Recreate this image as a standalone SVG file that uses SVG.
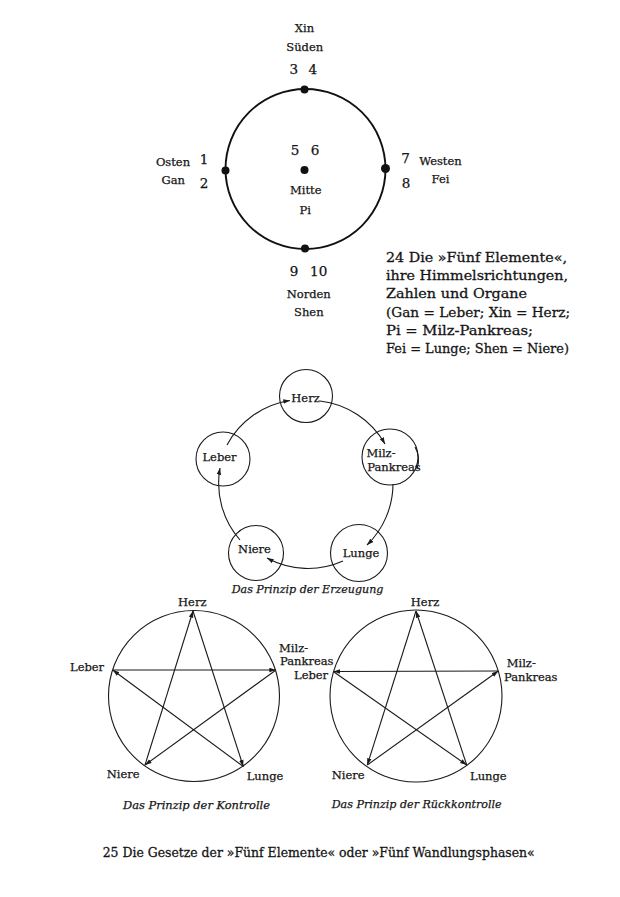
<svg xmlns="http://www.w3.org/2000/svg" width="620" height="897" viewBox="0 0 620 897">
<defs>
<style>
.t{font-family:"DejaVu Serif","Liberation Serif",serif;font-size:11.5px;fill:#151515;stroke:#151515;stroke-width:0.25}
.m{text-anchor:middle}
.d{font-size:13.5px}
.c{font-size:13.5px;stroke-width:0.3}
.i{font-style:italic;font-size:11.5px}
.ln{fill:none;stroke:#1a1a1a;stroke-width:1.1}
.dot{fill:#111}
</style>
<marker id="ah" viewBox="0 0 8 6" refX="8" refY="3" markerWidth="7" markerHeight="5" markerUnits="userSpaceOnUse" orient="auto">
<path d="M0,0.3 L8,3 L0,5.7 z" fill="#1a1a1a"/>
</marker>
</defs>
<rect width="620" height="897" fill="#ffffff"/>

<!-- Figure 24 -->
<g id="fig24">
<circle cx="305.5" cy="169" r="80" fill="none" stroke="#111" stroke-width="1.9"/>
<g id="sueden">
<circle class="dot" cx="304.5" cy="89.5" r="4"/>
<text class="t m" x="304.5" y="32">Xin</text>
<text class="t m" x="304.7" y="51">Süden</text>
<text class="t d m" x="293.8" y="73.5">3</text>
<text class="t d m" x="312.8" y="73.5">4</text>
</g>
<g id="osten">
<circle class="dot" cx="225.5" cy="170.5" r="4"/>
<text class="t m" x="173" y="166">Osten</text>
<text class="t m" x="173.3" y="184">Gan</text>
<text class="t d m" x="204" y="163.5">1</text>
<text class="t d m" x="204" y="188">2</text>
</g>
<g id="mitte">
<circle class="dot" cx="304.5" cy="170" r="4"/>
<text class="t d m" x="295" y="155">5</text>
<text class="t d m" x="315" y="155">6</text>
<text class="t m" x="305.7" y="194">Mitte</text>
<text class="t m" x="305.3" y="214">Pi</text>
</g>
<g id="westen">
<circle class="dot" cx="385.5" cy="168.5" r="4.5"/>
<text class="t d m" x="405.5" y="163">7</text>
<text class="t d m" x="406" y="188">8</text>
<text class="t m" x="440.5" y="164.5">Westen</text>
<text class="t m" x="440.5" y="183">Fei</text>
</g>
<g id="norden">
<circle class="dot" cx="305" cy="248.5" r="4"/>
<text class="t d m" x="294" y="276">9</text>
<text class="t d m" x="318.7" y="276">10</text>
<text class="t m" x="308.7" y="297.5">Norden</text>
<text class="t m" x="308.8" y="316">Shen</text>
</g>
<g id="caption24">
<text class="t c" x="386" y="261.5" textLength="181" lengthAdjust="spacingAndGlyphs">24  Die »Fünf Elemente«,</text>
<text class="t c" x="386" y="280" textLength="182" lengthAdjust="spacingAndGlyphs">ihre Himmelsrichtungen,</text>
<text class="t c" x="386" y="298.3" textLength="141" lengthAdjust="spacingAndGlyphs">Zahlen und Organe</text>
<text class="t c" x="386" y="316.7" textLength="184" lengthAdjust="spacingAndGlyphs">(Gan = Leber; Xin = Herz;</text>
<text class="t c" x="386" y="335" textLength="147" lengthAdjust="spacingAndGlyphs">Pi = Milz-Pankreas;</text>
<text class="t c" x="386" y="353.3" textLength="183" lengthAdjust="spacingAndGlyphs">Fei = Lunge; Shen = Niere)</text>
</g>
</g>

<!-- Erzeugung -->
<g id="erzeugung-herz">
<circle class="ln" cx="306" cy="396" r="26.5"/>
<text class="t m" x="305.5" y="401.5">Herz</text>
</g>
<g id="erzeugung-leber">
<circle class="ln" cx="223" cy="459" r="27"/>
<text class="t m" x="219.5" y="461">Leber</text>
</g>
<g id="erzeugung-milz">
<circle class="ln" cx="390" cy="457" r="28"/>
<path class="ln" d="M 415 447 Q 421 457 417 469" stroke-width="1.6"/>
<text class="t m" x="381" y="456.7">Milz-</text>
<text class="t m" x="394" y="470.7">Pankreas</text>
</g>
<g id="erzeugung-niere">
<circle class="ln" cx="256" cy="553" r="27.5"/>
<text class="t m" x="254.5" y="553.3">Niere</text>
</g>
<g id="erzeugung-lunge">
<circle class="ln" cx="359" cy="553" r="28.5"/>
<text class="t m" x="361" y="557.3">Lunge</text>
</g>
<g id="erzeugung-connectors">
<path class="ln" marker-end="url(#ah)" d="M 320 401 A 86 86 0 0 1 385 444"/>
<path class="ln" marker-end="url(#ah)" d="M 393 484 A 86 86 0 0 1 367 545"/>
<path class="ln" marker-end="url(#ah)" d="M 343 561 A 86 86 0 0 1 267 558"/>
<path class="ln" marker-end="url(#ah)" d="M 240 540 A 86 86 0 0 1 220 468"/>
<path class="ln" marker-end="url(#ah)" d="M 227 445 A 86 86 0 0 1 290 400.5"/>
</g>
<text class="t i" x="231.7" y="593" textLength="151.7" lengthAdjust="spacingAndGlyphs">Das Prinzip der Erzeugung</text>

<!-- Kontrolle -->
<circle class="ln" cx="194" cy="696" r="85.5"/>
<g id="k-herz"><text class="t m" x="192.3" y="606">Herz</text></g>
<g id="k-leber"><text class="t" x="70" y="671">Leber</text></g>
<g id="k-milz"><text class="t" x="279" y="652">Milz-</text><text class="t" x="280" y="665">Pankreas</text></g>
<g id="k-niere"><text class="t" x="106.7" y="778">Niere</text></g>
<g id="k-lunge"><text class="t" x="246.7" y="780">Lunge</text></g>
<g id="k-connectors">
<line class="ln" marker-end="url(#ah)" x1="193" y1="611" x2="243.3" y2="766.5"/>
<line class="ln" marker-end="url(#ah)" x1="145" y1="765" x2="193" y2="611"/>
<line class="ln" marker-end="url(#ah)" x1="112.7" y1="670" x2="276" y2="670"/>
<line class="ln" marker-end="url(#ah)" x1="276" y1="670" x2="145" y2="765"/>
<line class="ln" marker-end="url(#ah)" x1="243.3" y1="766.5" x2="112.7" y2="670"/>
</g>
<text class="t i" x="123" y="809" textLength="147" lengthAdjust="spacingAndGlyphs">Das Prinzip der Kontrolle</text>

<!-- Rueckkontrolle -->
<circle class="ln" cx="416" cy="696" r="86"/>
<g id="r-herz"><text class="t m" x="425" y="605.7">Herz</text></g>
<g id="r-leber"><text class="t" x="294" y="679">Leber</text></g>
<g id="r-milz"><text class="t" x="506.7" y="667">Milz-</text><text class="t" x="504" y="681">Pankreas</text></g>
<g id="r-niere"><text class="t" x="331.7" y="779">Niere</text></g>
<g id="r-lunge"><text class="t" x="470" y="780">Lunge</text></g>
<g id="r-connectors">
<line class="ln" marker-end="url(#ah)" x1="466.7" y1="765" x2="416" y2="611"/>
<line class="ln" marker-end="url(#ah)" x1="416" y1="611" x2="367.3" y2="765"/>
<line class="ln" marker-end="url(#ah)" x1="367.3" y1="765" x2="498.3" y2="671"/>
<line class="ln" marker-end="url(#ah)" x1="498.3" y1="671" x2="333.3" y2="671.5"/>
<line class="ln" marker-end="url(#ah)" x1="333.3" y1="671.5" x2="466.7" y2="765"/>
</g>
<text class="t i" x="331.7" y="808" textLength="170" lengthAdjust="spacingAndGlyphs">Das Prinzip der Rückkontrolle</text>

<text class="t c" x="102.7" y="856.5" textLength="432" lengthAdjust="spacingAndGlyphs">25  Die Gesetze der »Fünf Elemente« oder »Fünf Wandlungsphasen«</text>
</svg>
